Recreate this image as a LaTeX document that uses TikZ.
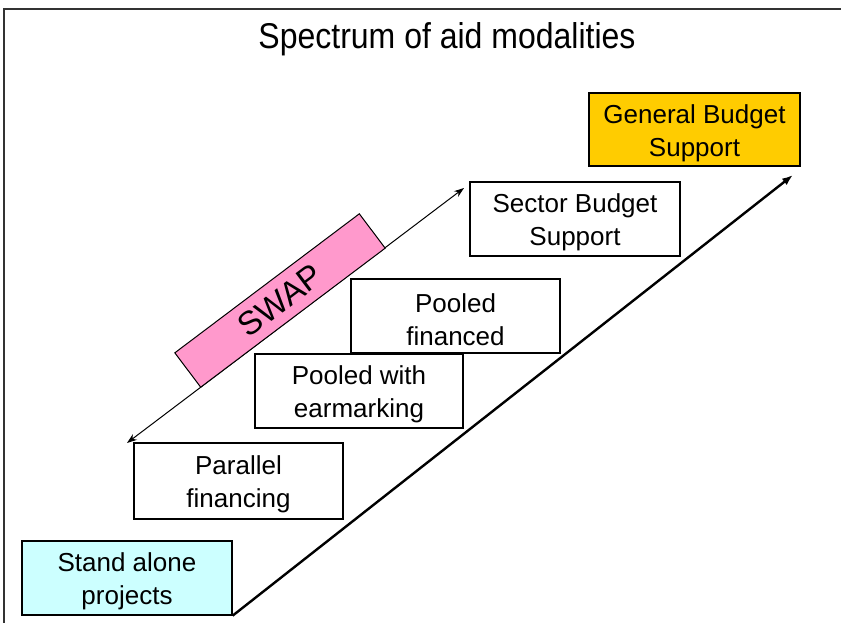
\documentclass[tikz,border=0pt]{standalone}
\usepackage{fontspec}
\setmainfont{Liberation Sans}
\usetikzlibrary{arrows.meta}

\definecolor{gbsgold}{HTML}{FFCC00}
\definecolor{sapcyan}{HTML}{CCFFFF}
\definecolor{swappink}{HTML}{FF99CC}

\tikzset{
  modality/.style={draw=black, line width=1.3pt, fill=white,
    minimum width=209pt, minimum height=74pt, inner sep=0pt},
  boxtext/.style={align=center, inner sep=0pt, yshift=-3.5pt,
    font=\fontsize{26}{33}\selectfont},
  spectrum/.style={line width=2.4pt, -{Latex[length=11pt,width=8pt]}},
  swaparrow/.style={line width=1pt, {Stealth[length=10pt,width=7pt]}-{Stealth[length=10pt,width=7pt]}},
  swapbox/.style={draw=black, line width=1pt, fill=swappink, rotate=37,
    minimum width=231pt, minimum height=43pt, inner sep=0pt,
    font=\fontsize{33}{38}\selectfont},
  frame/.style={line width=1.2pt, draw=black!80}
}

\begin{document}
\begin{tikzpicture}[x=1pt, y=-1pt]
  \useasboundingbox (0,0) rectangle (841,623);

  % slide frame
  \draw[frame] (4,623) -- (4,9) -- (841,9);

  % title
  \node[font=\fontsize{32}{38}\selectfont] (title) at (447,39) {\scalebox{1}[1.12]{Spectrum of aid modalities}};

  % the steps of the spectrum
  \node[modality, fill=gbsgold, minimum width=211pt, minimum height=73pt,
    label={[boxtext]center:General Budget\\Support}] (gbs) at (694.5,129.5) {};
  \node[modality, minimum width=210pt,
    label={[boxtext]center:Sector Budget\\Support}] (sbs) at (575,219) {};
  \node[modality,
    label={[boxtext]center:Pooled\\financed}] (pf) at (455.5,316) {};
  \node[modality, minimum width=208pt,
    label={[boxtext]center:Pooled with\\earmarking}] (pwe) at (359,391) {};
  \node[modality, minimum height=76pt,
    label={[boxtext]center:Parallel\\financing}] (par) at (238.5,481) {};
  \node[modality, fill=sapcyan, minimum width=210pt,
    label={[boxtext]center:Stand alone\\projects}] (sap) at (127,578) {};

  % rising spectrum arrow
  \coordinate (top) at (793,175);
  \draw[spectrum] (sap.south east) -- (top);

  % span of sector-wide approaches
  \coordinate (swapA) at (127,443);
  \coordinate (swapB) at (464,188);
  \draw[swaparrow] (swapA) -- (swapB);
  \node[swapbox] (swap) at (280,300.5) {SWAP};
\end{tikzpicture}
\end{document}
